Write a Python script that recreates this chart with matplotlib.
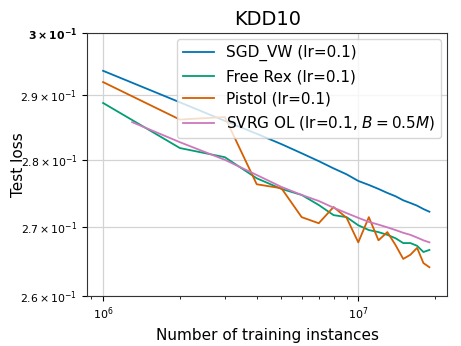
import numpy as np
import matplotlib.pyplot as plt
from matplotlib.ticker import FixedLocator, NullFormatter

# training instances seen (millions)
steps = [1, 2, 3, 4, 5, 6, 7, 8, 9, 10, 11, 12, 13, 14, 15, 16, 17, 18, 19]
svrg_steps = [1.3, 2, 3, 4, 5, 6, 7, 8, 9, 10, 11, 12, 13, 14, 15, 16, 17, 18, 19]

sgd_vw = [0.2939, 0.2889, 0.2860, 0.2840, 0.2824, 0.2810, 0.2798, 0.2787, 0.2778, 0.2768,
          0.2762, 0.2756, 0.2750, 0.2745, 0.2739, 0.2735, 0.2731, 0.2726, 0.2722]
free_rex = [0.2888, 0.2818, 0.2804, 0.2772, 0.2756, 0.2747, 0.2732, 0.2717, 0.2714, 0.2702,
            0.2695, 0.2692, 0.2688, 0.2683, 0.2676, 0.2676, 0.2672, 0.2663, 0.2666]
pistol = [0.2921, 0.2862, 0.2866, 0.2763, 0.2757, 0.2714, 0.2705, 0.2729, 0.2713, 0.2677,
          0.2714, 0.2680, 0.2692, 0.2673, 0.2653, 0.2659, 0.2669, 0.2647, 0.2641]
svrg_ol = [0.2858, 0.2827, 0.2800, 0.2777, 0.2759, 0.2747, 0.2738, 0.2728, 0.2720, 0.2713,
           0.2707, 0.2703, 0.2699, 0.2695, 0.2691, 0.2688, 0.2684, 0.2680, 0.2677]

ytick_vals = [0.26, 0.27, 0.28, 0.29, 0.30]
ytick_labels = [r'$2.6\times10^{-1}$', r'$2.7\times10^{-1}$', r'$2.8\times10^{-1}$',
                r'$2.9\times10^{-1}$', r'$\mathbf{3\times10^{-1}}$']

x = np.array(steps) * 1e6
xs = np.array(svrg_steps) * 1e6

fig = plt.figure(figsize=(4.61, 3.46), dpi=100)
ax = fig.add_axes([0.189, 0.1445, 0.781, 0.760])

ax.plot(x, sgd_vw, color='#0173b2', lw=1.3, label='SGD_VW (lr=0.1)')
ax.plot(x, free_rex, color='#029e73', lw=1.3, label='Free Rex (lr=0.1)')
ax.plot(x, pistol, color='#d55e00', lw=1.3, label='Pistol (lr=0.1)')
ax.plot(xs, svrg_ol, color='#cc78bc', lw=1.3, label=r'SVRG OL (lr=0.1, $B=0.5M$)')

ax.set_xscale('log')
ax.set_yscale('log')
ax.set_xlim(8.66e5, 2.23e7)
ax.set_ylim(0.26, 0.30)

ax.yaxis.set_major_locator(FixedLocator(ytick_vals))
ax.yaxis.set_minor_locator(FixedLocator([]))
ax.set_yticklabels(ytick_labels)
ax.yaxis.set_minor_formatter(NullFormatter())
ax.tick_params(axis='x', labelsize=8)
ax.tick_params(axis='y', labelsize=7.8)

ax.grid(True, which='major', color='#d3d3d3', lw=0.9)
for s in ax.spines.values():
    s.set_color('#333333')

ax.set_title('KDD10', fontsize=14)
ax.set_xlabel('Number of training instances', fontsize=11)
ax.set_ylabel('Test loss', fontsize=11)
ax.yaxis.set_label_coords(-0.17, 0.5)
ax.legend(loc='upper right', fontsize=11, handlelength=2.0, borderaxespad=0.4)

fig.savefig('out.png', dpi=100)
